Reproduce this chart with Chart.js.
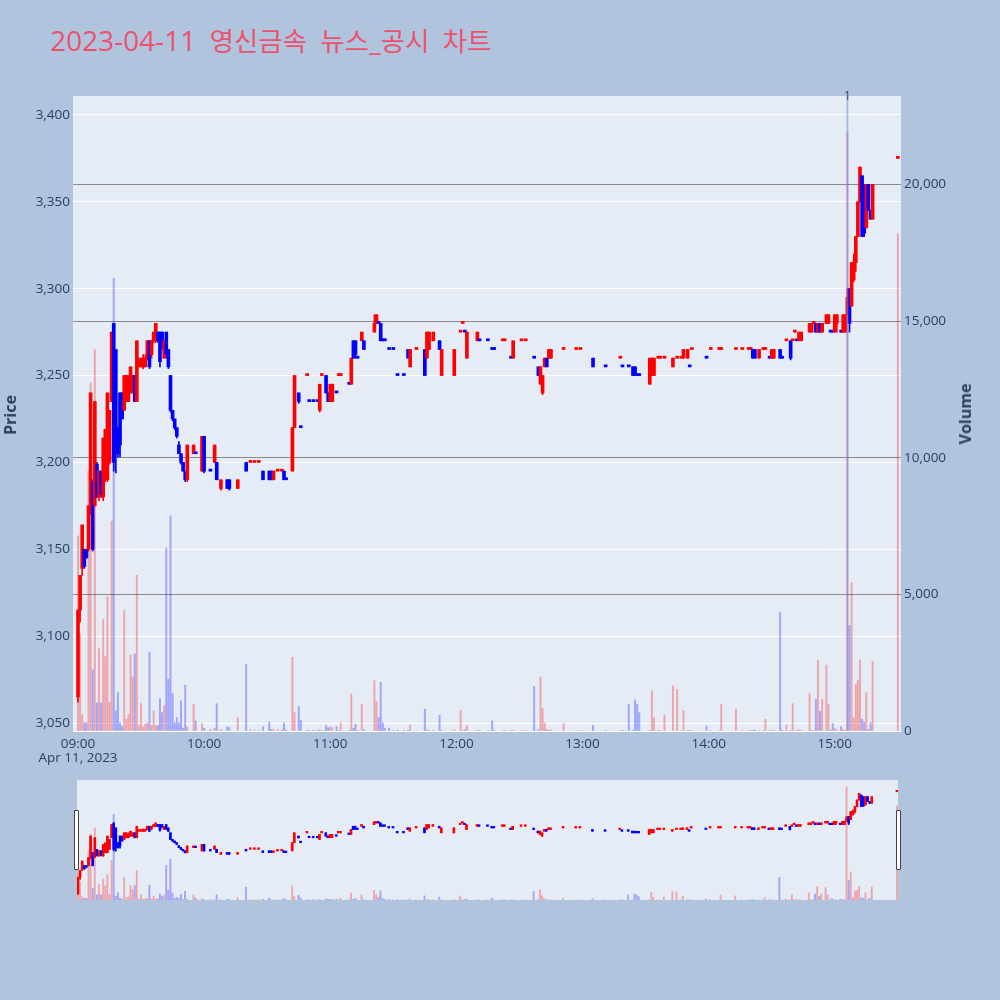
<!DOCTYPE html>
<html>
<head>
<meta charset="utf-8">
<script src="https://cdn.jsdelivr.net/npm/chart.js@4.4.1/dist/chart.umd.min.js"></script>
<style>
html,body{margin:0;padding:0;background:#b0c4de;}
#wrap{position:relative;width:1000px;height:1000px;background:#b0c4de;overflow:hidden;font-family:"Open Sans","Noto Sans CJK KR",sans-serif;}
canvas{position:absolute;left:0;}
#main{top:0;}
#slider{top:770px;}
#title{position:absolute;left:50px;top:23px;font-size:28px;line-height:34px;color:#ef4f6b;white-space:nowrap;word-spacing:6px;}
#title .ko{font-size:26.5px;}
.axt{position:absolute;transform:translate(-50%,-50%) rotate(-90deg);font-weight:bold;font-size:16px;color:#2a3f5f;white-space:nowrap;}
#date{position:absolute;left:78px;top:749px;transform:translateX(-50%);font-size:13.5px;line-height:17px;color:#2a3f5f;white-space:nowrap;}
.handle{position:absolute;top:810px;width:3px;height:58px;border:1px solid #444;background:#fff;border-radius:1px;}
</style>
</head>
<body>
<div id="wrap">
<canvas id="main" width="1000" height="770"></canvas>
<canvas id="slider" width="1000" height="140"></canvas>
<div id="title">2023-04-11 <span class="ko">영신금속</span> <span class="ko">뉴스_공시</span> <span class="ko">차트</span></div>
<div class="axt" style="left:10px;top:415px;">Price</div>
<div class="axt" style="left:965px;top:414px;">Volume</div>
<div id="date">Apr 11, 2023</div>
<div class="handle" style="left:74px;"></div>
<div class="handle" style="left:896px;"></div>
</div>
<script>
// ---------------- data ----------------
const times = ["09:00","09:01","09:02","09:03","09:04","09:05","09:06","09:07","09:08","09:09","09:10","09:11","09:12","09:13","09:14","09:15","09:16","09:17","09:18","09:19","09:20","09:21","09:22","09:23","09:24","09:25","09:26","09:27","09:28","09:29","09:30","09:31","09:32","09:33","09:34","09:35","09:36","09:37","09:38","09:39","09:40","09:41","09:42","09:43","09:44","09:45","09:46","09:47","09:48","09:49","09:50","09:51","09:52","09:55","09:56","09:59",
"10:00","10:03","10:05","10:06","10:08","10:11","10:12","10:16","10:20","10:22","10:24","10:26","10:28","10:31","10:32","10:33","10:35","10:37","10:38","10:39","10:42","10:43","10:45","10:46","10:49","10:50","10:52","10:54","10:55","10:56","10:58","10:59",
"11:00","11:01","11:03","11:04","11:05","11:09","11:10","11:11","11:12","11:13","11:15","11:16","11:21","11:22","11:23","11:24","11:25","11:26","11:28","11:30","11:32","11:35","11:37","11:38","11:41","11:45","11:46","11:47","11:49","11:52","11:53","11:59",
"12:02","12:03","12:04","12:05","12:10","12:11","12:15","12:17","12:18","12:22","12:23","12:26","12:27","12:31","12:33","12:37","12:39","12:40","12:41","12:42","12:43","12:44","12:45","12:51","12:57","12:59",
"13:05","13:11","13:18","13:19","13:22","13:24","13:25","13:26","13:27","13:32","13:33","13:34","13:36","13:37","13:39","13:43","13:45","13:47","13:48","13:50","13:51","13:52","13:59",
"14:01","14:05","14:06","14:13","14:16","14:19","14:20","14:21","14:22","14:24","14:26","14:27","14:29","14:30","14:31","14:34","14:35","14:37","14:39","14:40","14:41","14:42","14:43","14:44","14:48","14:49","14:50","14:51","14:52","14:53","14:54","14:56","14:57","14:58","14:59",
"15:00","15:01","15:03","15:04","15:05","15:06","15:07","15:08","15:09","15:10","15:11","15:12","15:13","15:14","15:15","15:16","15:17","15:18","15:30"];
const opens = [3065,3115,3139,3150,3150,3150,3175,3189,3175,3199,3180,3195,3180,3190,3190,3200,3235,3280,3265,3220,3240,3240,3230,3235,3235,3240,3240,3250,3235,3255,3255,3255,3255,3260,3270,3262,3270,3270,3275,3275,3275,3260,3275,3265,3250,3230,3225,3220,3210,3205,3200,3195,3190,3205,3205,3195,
3215,3195,3200,3200,3185,3190,3190,3185,3200,3200,3200,3200,3195,3195,3195,3190,3195,3195,3195,3190,3195,3220,3240,3220,3250,3235,3235,3235,3230,3250,3250,3240,
3235,3235,3240,3250,3250,3245,3245,3270,3270,3260,3270,3270,3275,3280,3280,3280,3270,3270,3265,3265,3250,3250,3265,3255,3265,3265,3260,3265,3270,3270,3250,3250,
3275,3280,3275,3260,3270,3270,3270,3265,3265,3270,3270,3260,3260,3270,3270,3260,3255,3245,3240,3255,3260,3260,3260,3265,3265,3265,
3260,3255,3260,3255,3255,3255,3255,3250,3250,3245,3250,3250,3260,3260,3260,3255,3260,3260,3260,3260,3255,3265,3260,
3265,3265,3265,3265,3265,3265,3265,3265,3265,3260,3265,3265,3260,3260,3260,3265,3260,3270,3270,3270,3275,3270,3270,3270,3275,3275,3280,3280,3275,3280,3275,3280,3280,3275,3275,
3275,3280,3275,3275,3275,3285,3300,3290,3305,3315,3330,3350,3365,3360,3335,3360,3345,3340,3375];
const highs = [3115,3135,3164,3150,3150,3175,3240,3190,3235,3200,3195,3195,3214,3219,3240,3230,3275,3280,3265,3220,3240,3240,3250,3250,3250,3255,3250,3250,3270,3260,3260,3262,3262,3270,3270,3270,3275,3280,3275,3275,3275,3270,3275,3265,3250,3230,3225,3220,3212,3205,3200,3195,3210,3210,3205,3215,
3215,3195,3210,3200,3190,3190,3190,3190,3200,3200,3200,3200,3195,3195,3195,3195,3195,3195,3195,3190,3220,3250,3240,3220,3250,3235,3235,3235,3245,3250,3250,3240,
3245,3245,3240,3250,3250,3245,3260,3270,3270,3260,3275,3270,3285,3285,3280,3280,3270,3270,3265,3265,3250,3250,3265,3265,3265,3265,3275,3275,3275,3270,3265,3265,
3275,3280,3275,3275,3275,3270,3270,3265,3265,3270,3270,3260,3270,3270,3270,3260,3255,3255,3250,3260,3260,3265,3265,3265,3265,3265,
3260,3255,3260,3255,3255,3255,3255,3250,3250,3260,3260,3260,3260,3260,3260,3260,3260,3260,3265,3265,3255,3265,3260,
3265,3265,3265,3265,3265,3265,3265,3265,3265,3265,3265,3265,3260,3265,3265,3265,3260,3270,3270,3270,3275,3270,3275,3275,3280,3280,3280,3280,3280,3280,3280,3285,3285,3275,3275,
3285,3285,3275,3285,3285,3300,3300,3315,3320,3330,3350,3370,3365,3360,3360,3360,3345,3360,3375];
const lows = [3062,3108,3135,3139,3145,3149,3170,3149,3175,3180,3178,3180,3178,3189,3189,3199,3235,3195,3194,3203,3203,3225,3230,3235,3235,3240,3240,3235,3235,3255,3255,3254,3255,3259,3254,3260,3269,3269,3269,3255,3265,3260,3260,3254,3229,3224,3219,3214,3205,3199,3195,3189,3189,3205,3205,3195,
3194,3195,3200,3190,3184,3185,3184,3185,3195,3200,3200,3200,3190,3190,3190,3190,3195,3195,3190,3190,3195,3220,3234,3220,3250,3235,3235,3235,3229,3250,3240,3235,
3235,3235,3240,3250,3250,3245,3245,3260,3260,3260,3270,3265,3275,3280,3280,3270,3270,3270,3265,3265,3250,3250,3260,3255,3265,3250,3260,3265,3270,3265,3250,3250,
3275,3280,3275,3260,3270,3270,3270,3265,3265,3270,3270,3260,3260,3270,3270,3260,3250,3245,3239,3255,3255,3260,3260,3265,3265,3265,
3255,3255,3260,3255,3255,3250,3250,3250,3250,3245,3250,3250,3260,3260,3260,3255,3260,3260,3260,3260,3255,3265,3260,
3265,3265,3265,3265,3265,3265,3265,3260,3260,3260,3265,3265,3260,3260,3260,3260,3260,3270,3259,3270,3275,3270,3270,3270,3275,3275,3280,3275,3275,3275,3275,3280,3280,3275,3275,
3275,3275,3275,3275,3275,3285,3275,3290,3304,3310,3330,3350,3330,3330,3335,3345,3340,3340,3375];
const closes = [3115,3135,3164,3140,3145,3175,3240,3150,3235,3180,3195,3182,3214,3219,3240,3230,3275,3200,3205,3205,3210,3225,3250,3250,3245,3255,3250,3235,3270,3258,3260,3260,3260,3270,3255,3270,3275,3280,3270,3258,3270,3270,3262,3255,3230,3225,3220,3215,3205,3200,3195,3190,3210,3210,3205,3215,
3195,3195,3210,3190,3190,3185,3185,3190,3195,3200,3200,3200,3190,3190,3190,3195,3195,3195,3190,3190,3220,3250,3235,3220,3250,3235,3235,3235,3245,3250,3240,3235,
3245,3245,3240,3250,3250,3245,3260,3260,3262,3260,3275,3265,3280,3285,3280,3270,3270,3270,3265,3265,3250,3250,3260,3265,3265,3250,3275,3275,3275,3265,3265,3265,
3275,3280,3275,3275,3275,3270,3270,3265,3265,3270,3270,3260,3270,3270,3270,3260,3250,3255,3250,3260,3255,3265,3265,3265,3265,3265,
3255,3255,3260,3255,3255,3250,3250,3250,3250,3260,3260,3260,3260,3260,3260,3260,3260,3260,3265,3265,3255,3265,3260,
3265,3265,3265,3265,3265,3265,3265,3260,3260,3265,3265,3265,3260,3265,3265,3260,3260,3270,3260,3270,3275,3270,3275,3275,3280,3280,3280,3275,3280,3275,3280,3285,3285,3275,3275,
3285,3285,3275,3285,3285,3295,3280,3315,3315,3330,3350,3370,3330,3332,3360,3345,3340,3360,3375];
const volumes = [7140,3540,600,300,300,9520,12730,2240,13960,1030,3010,1030,4080,2720,4920,1040,7680,16560,735,1410,300,180,4410,430,610,2780,1980,2820,5700,200,1000,150,250,300,2880,200,735,200,200,1190,670,920,6690,1900,7870,1380,300,490,300,1100,100,1680,150,980,370,270,
100,50,100,1000,60,150,120,490,2430,50,30,30,150,330,60,50,50,40,300,40,2700,670,900,400,20,30,30,30,50,20,200,120,
150,120,160,20,300,20,1350,100,250,20,980,50,1840,1070,490,1780,300,100,100,30,40,30,30,220,20,800,50,30,30,580,30,50,
760,20,50,200,30,20,20,370,30,20,20,20,30,20,20,1630,50,1980,830,300,50,30,40,280,20,20,
200,20,20,30,980,30,1140,980,670,30,1480,490,30,20,580,1650,1530,20,750,30,20,20,180,
20,20,980,800,20,20,20,30,30,20,20,430,20,20,30,4350,30,220,30,1000,20,20,50,30,1370,30,20,1160,2600,720,1160,2410,980,30,270,
100,50,160,50,40,21900,3860,5430,490,1715,1860,2600,430,330,1400,50,300,2560,18200];
const priceTicks = [3050,3100,3150,3200,3250,3300,3350,3400];
const volumeTicks = [0,5000,10000,15000,20000];
const timeTicks = ["09:00","10:00","11:00","12:00","13:00","14:00","15:00"];
const newsTimes = ["15:06"];
const newsLabels = ["1"];

// ---------------- helpers ----------------
const toMin = t => { const p = t.split(':').map(Number); return (p[0]-9)*60 + p[1]; };
const fmt = v => String(Math.round(v)).replace(/\B(?=(\d{3})+(?!\d))/g, ',');
const xs = times.map(toMin);
// plotly-like increasing/decreasing rule (doji uses previous close)
let incFlag = true, cPrev = null;
const isUp = closes.map((c, i) => {
  const o = opens[i];
  if (c === o) { if (cPrev !== null && c !== cPrev) incFlag = c > cPrev; }
  else incFlag = c > o;
  cPrev = c;
  return incFlag;
});
const UP = '#ff0000', DOWN = '#0000ff';
const UPV = 'rgba(255,0,0,0.3)', DOWNV = 'rgba(0,0,255,0.3)';
const PRICE_MIN = 3045.4, PRICE_MAX = 3410.9, VOL_MAX = 23235;

function makeDatasets(bodyW, wickW, volW, minLen) {
  return [
    { label:'wick', data: xs.map((x,i)=>({x:x, y:[lows[i], highs[i]]})),
      backgroundColor: isUp.map(u=>u?UP:DOWN), barThickness: wickW, grouped:false, yAxisID:'y', order:3, borderWidth:0 },
    { label:'body', data: xs.map((x,i)=>({x:x, y:[opens[i], closes[i]]})),
      backgroundColor: isUp.map(u=>u?UP:DOWN), barThickness: bodyW, minBarLength: minLen, grouped:false, yAxisID:'y', order:2, borderWidth:0 },
    { label:'volume', data: xs.map((x,i)=>({x:x, y:volumes[i]})),
      backgroundColor: isUp.map(u=>u?UPV:DOWNV), barThickness: volW, grouped:false, yAxisID:'y1', order:1, borderWidth:0 }
  ];
}

const bgPlugin = {
  id:'bg',
  beforeDraw(chart){
    const a = chart.chartArea, c = chart.ctx;
    c.save(); c.fillStyle = '#e5ecf6'; c.fillRect(a.left, a.top, a.right-a.left, a.bottom-a.top); c.restore();
  }
};
const newsPlugin = {
  id:'news',
  afterDatasetsDraw(chart){
    const a = chart.chartArea, c = chart.ctx, xsc = chart.scales.x;
    c.save();
    newsTimes.forEach((t, i) => {
      const px = xsc.getPixelForValue(toMin(t));
      c.strokeStyle = 'rgba(100,140,225,0.5)'; c.lineWidth = 2;
      c.beginPath(); c.moveTo(px, a.top); c.lineTo(px, a.bottom); c.stroke();
      c.fillStyle = '#2a3f5f'; c.font = '12px "Open Sans"'; c.textAlign = 'center'; c.textBaseline = 'middle';
      c.fillText(newsLabels[i], px, a.top + 1);
    });
    c.restore();
  }
};

const tickFont = { family:'"Open Sans", sans-serif', size:13.5 };
const TICKC = '#2a3f5f';

new Chart(document.getElementById('main'), {
  type:'bar',
  data:{ datasets: makeDatasets(3, 1, 1.3, 2) },
  options:{
    responsive:false, animation:false, devicePixelRatio:1,
    layout:{ padding:{ top:96, left:0, right:0, bottom:0 } },
    plugins:{ legend:{display:false}, tooltip:{enabled:false} },
    scales:{
      x:{ type:'linear', min:-2.377, max:391.5, offset:false,
          afterBuildTicks: s => { s.ticks = timeTicks.map(t=>({value: toMin(t)})); },
          ticks:{ autoSkip:false, maxRotation:0, padding:5, color:TICKC, font:tickFont,
                  callback:(v, i) => timeTicks[i] },
          grid:{ display:false, drawTicks:false, tickLength:0 }, border:{ display:false },
          afterFit: s => { s.height = 39; } },
      y:{ position:'left', min:PRICE_MIN, max:PRICE_MAX,
          afterBuildTicks: s => { s.ticks = priceTicks.map(v=>({value:v})); },
          ticks:{ padding:3, color:TICKC, font:tickFont, callback: v => fmt(v) },
          grid:{ color:'#ffffff', lineWidth:1, drawTicks:false, tickLength:0 }, border:{ display:false },
          afterFit: s => { s.width = 73; } },
      y1:{ position:'right', min:0, max:VOL_MAX,
          afterBuildTicks: s => { s.ticks = volumeTicks.map(v=>({value:v})); },
          ticks:{ padding:3, color:TICKC, font:tickFont, callback: v => fmt(v) },
          grid:{ color: ctx => (ctx.tick && ctx.tick.value === 0) ? '#ffffff' : '#8a8a8a', lineWidth:1, drawTicks:false, tickLength:0 },
          border:{ display:false },
          afterFit: s => { s.width = 99; } }
    }
  },
  plugins:[bgPlugin, newsPlugin]
});

new Chart(document.getElementById('slider'), {
  type:'bar',
  data:{ datasets: makeDatasets(2, 1, 1.2, 1.5) },
  options:{
    responsive:false, animation:false, devicePixelRatio:1,
    layout:{ padding:{ top:10, left:77, right:102, bottom:10 } },
    plugins:{ legend:{display:false}, tooltip:{enabled:false} },
    scales:{
      x:{ type:'linear', display:false, min:-0.476, max:390.5, offset:false },
      y:{ display:false, min:PRICE_MIN, max:PRICE_MAX },
      y1:{ display:false, min:0, max:VOL_MAX }
    }
  },
  plugins:[bgPlugin]
});
</script>
</body>
</html>
